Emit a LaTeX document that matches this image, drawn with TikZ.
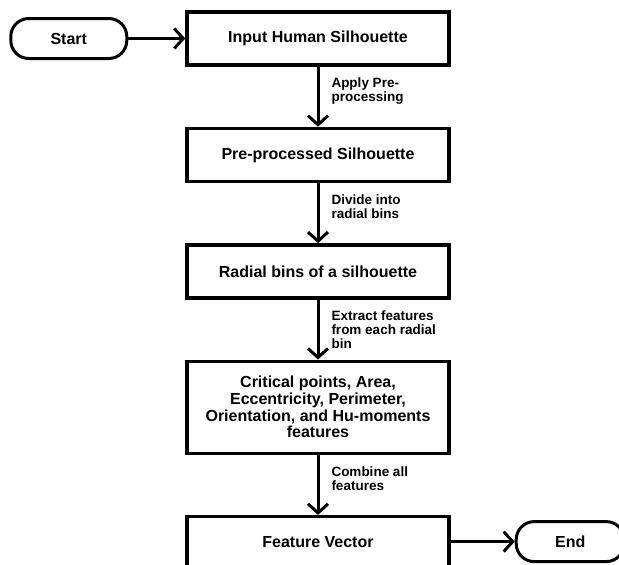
\documentclass[tikz,border=0pt]{standalone}
\usepackage{fontspec}
\setmainfont{Liberation Sans}
\usetikzlibrary{positioning,arrows.meta}
\begin{document}
\begin{tikzpicture}[x=1pt,y=1pt,node distance=60pt,
box/.style={draw,line width=3.4pt,minimum width=262pt,minimum height=53pt,align=center,inner sep=2pt,font=\fontsize{16}{16.7}\selectfont\bfseries},
term/.style={draw,line width=3pt,rounded corners=18pt,minimum width=116pt,minimum height=40pt,font=\fontsize{16}{18}\selectfont\bfseries},
flow/.style={line width=3pt,-{Straight Barb[length=9pt,width=20pt]}},
lbl/.style={anchor=north west,align=left,inner sep=0pt,xshift=12pt,yshift=-10pt,font=\fontsize{13.5}{14}\selectfont\bfseries}]
\useasboundingbox (0,0) rectangle (619,-565);
\node[box] (in) at (318,-38.5) {Input Human Silhouette};
\node[box,below=of in] (pre) {Pre-processed Silhouette};
\node[box,below=of pre] (bins) {Radial bins of a silhouette};
\node[box,below=of bins,minimum height=92pt] (feat) {Critical points, Area,\\Eccentricity, Perimeter,\\Orientation, and Hu-moments\\features};
\node[box,below=of feat,minimum height=50pt] (vec) {Feature Vector};
\node[term,left=57pt of in] (start) {Start};
\node[term,right=64pt of vec,minimum width=108pt] (end) {End};
\draw[flow] (start) -- (in);
\draw[flow] (in) -- node[lbl,pos=0] {Apply Pre-\\processing} (pre);
\draw[flow] (pre) -- node[lbl,pos=0] {Divide into\\radial bins} (bins);
\draw[flow] (bins) -- node[lbl,pos=0] {Extract features\\from each radial\\bin} (feat);
\draw[flow] (feat) -- node[lbl,pos=0] {Combine all\\features} (vec);
\draw[flow] (vec) -- (end);
\end{tikzpicture}
\end{document}
